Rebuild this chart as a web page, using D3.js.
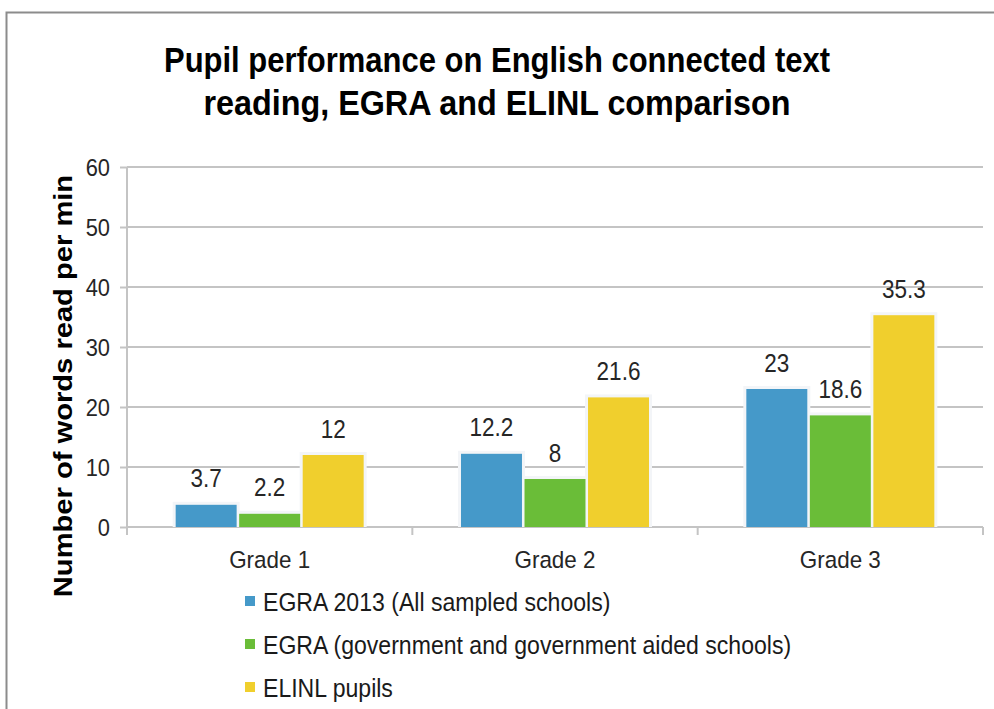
<!DOCTYPE html>
<html><head><meta charset="utf-8">
<script src="https://cdn.jsdelivr.net/npm/d3@7"></script>
<style>body{margin:0;background:#fff;} svg{display:block;font-family:"Liberation Sans",Arial,sans-serif;}</style>
</head><body>
<svg id="c" width="994" height="709"></svg>
<script>
const categories = ["Grade 1", "Grade 2", "Grade 3"];
const seriesNames = ["EGRA 2013 (All sampled schools)", "EGRA (government and government aided schools)", "ELINL pupils"];
const egra2013 = [3.7, 12.2, 23];
const egraGov = [2.2, 8, 18.6];
const elinl = [12, 21.6, 35.3];
const yTicks = [0, 10, 20, 30, 40, 50, 60];
const colors = ["#4599c9", "#6abd38", "#f0cf2d"];
const titleLines = ["Pupil performance on English connected text", "reading, EGRA and ELINL comparison"];
const yTitle = "Number of words read per min";

const series = [egra2013, egraGov, elinl];
const svg = d3.select("#c");
const FONT = "Liberation Sans, Arial, sans-serif";

// horizontally condense / stretch text by a factor of its natural width
function fit(sel, k) {
  sel.each(function(){
    const w = this.getComputedTextLength();
    d3.select(this).attr("textLength", w*k).attr("lengthAdjust","spacingAndGlyphs");
  });
}

// outer frame
svg.append("path").attr("d","M6.5,709 L6.5,12.5 L994,12.5").attr("fill","none").attr("stroke","#8c8c8c").attr("stroke-width",2);

const x0 = d3.scaleBand().domain(categories).range([127,983]).paddingInner(0).paddingOuter(0);
const x1 = d3.scaleBand().domain(d3.range(3)).range([x0.bandwidth()/2-94, x0.bandwidth()/2+94]).paddingInner(0.04);
const y = d3.scaleLinear().domain([0,60]).range([527,167]);

// grid
svg.append("g").selectAll("line").data(yTicks.slice(1)).join("line")
  .attr("x1",127).attr("x2",983).attr("y1",d=>y(d)).attr("y2",d=>y(d))
  .attr("stroke","#c4c4c4").attr("stroke-width",2);

// y axis
const ya = svg.append("g").attr("transform","translate(127,0)")
  .call(d3.axisLeft(y).tickValues(yTicks).tickSize(7).tickPadding(10));
ya.select(".domain").attr("stroke","#c4c4c4").attr("stroke-width",2).attr("d","M0,167V534");
ya.selectAll(".tick line").attr("stroke","#c4c4c4").attr("stroke-width",2);
ya.selectAll("text").attr("font-size",23).attr("fill","#262626").attr("font-family",FONT).attr("dy","0.36em").call(fit,0.95);

// x axis
const xa = svg.append("g").attr("transform","translate(0,527)")
  .call(d3.axisBottom(x0).tickSize(0).tickPadding(0));
xa.select(".domain").attr("stroke","#c4c4c4").attr("stroke-width",2).attr("d","M127,0H983");
xa.selectAll("text").attr("font-size",24.5).attr("fill","#262626").attr("font-family",FONT)
  .attr("dy",null).attr("y",41).call(fit,0.915);
svg.append("g").selectAll("line").data(d3.range(categories.length+1)).join("line")
  .attr("x1",d=>127+d*x0.bandwidth()).attr("x2",d=>127+d*x0.bandwidth())
  .attr("y1",527).attr("y2",535).attr("stroke","#c4c4c4").attr("stroke-width",2);

// bars
const g = svg.append("g");
categories.forEach((c,ci)=>{
  series.forEach((s,si)=>{
    const bx = x0(c)+x1(si);
    g.append("rect").attr("x",bx-3).attr("y",y(s[ci])-3).attr("width",x1.bandwidth()+6).attr("height",y(0)-y(s[ci])+3)
      .attr("fill","#f3f5f8");
  });
});
categories.forEach((c,ci)=>{
  series.forEach((s,si)=>{
    const bx = x0(c)+x1(si);
    g.append("rect").attr("x",bx).attr("y",y(s[ci])).attr("width",x1.bandwidth()).attr("height",y(0)-y(s[ci]))
      .attr("fill",colors[si]);
    g.append("text").attr("x",bx+x1.bandwidth()/2).attr("y",y(s[ci])-17.5)
      .attr("text-anchor","middle").attr("font-size",25).attr("fill","#262626").text(s[ci]).call(fit,0.9);
  });
});

// title
svg.append("g").selectAll("text").data(titleLines).join("text")
  .attr("x",497).attr("y",(d,i)=>72+i*43).attr("text-anchor","middle")
  .attr("font-size",34.5).attr("font-weight","bold").attr("fill","#000")
  .attr("textLength",(d,i)=>i===0?666:587).attr("lengthAdjust","spacingAndGlyphs").text(d=>d);

// y title
svg.append("text").attr("transform","translate(72,386) rotate(-90)").attr("text-anchor","middle")
  .attr("font-size",26).attr("font-weight","bold").attr("fill","#000").text(yTitle).call(fit,1.12);

// legend
const lg = svg.append("g").selectAll("g").data(seriesNames).join("g")
  .attr("transform",(d,i)=>`translate(245,${601+i*43})`);
lg.append("rect").attr("x",0).attr("y",-5).attr("width",10).attr("height",10).attr("fill",(d,i)=>colors[i]);
lg.append("text").attr("x",18).attr("y",9.5).attr("font-size",26).attr("fill","#1a1a1a").text(d=>d).call(fit,0.887);
</script>
</body></html>
